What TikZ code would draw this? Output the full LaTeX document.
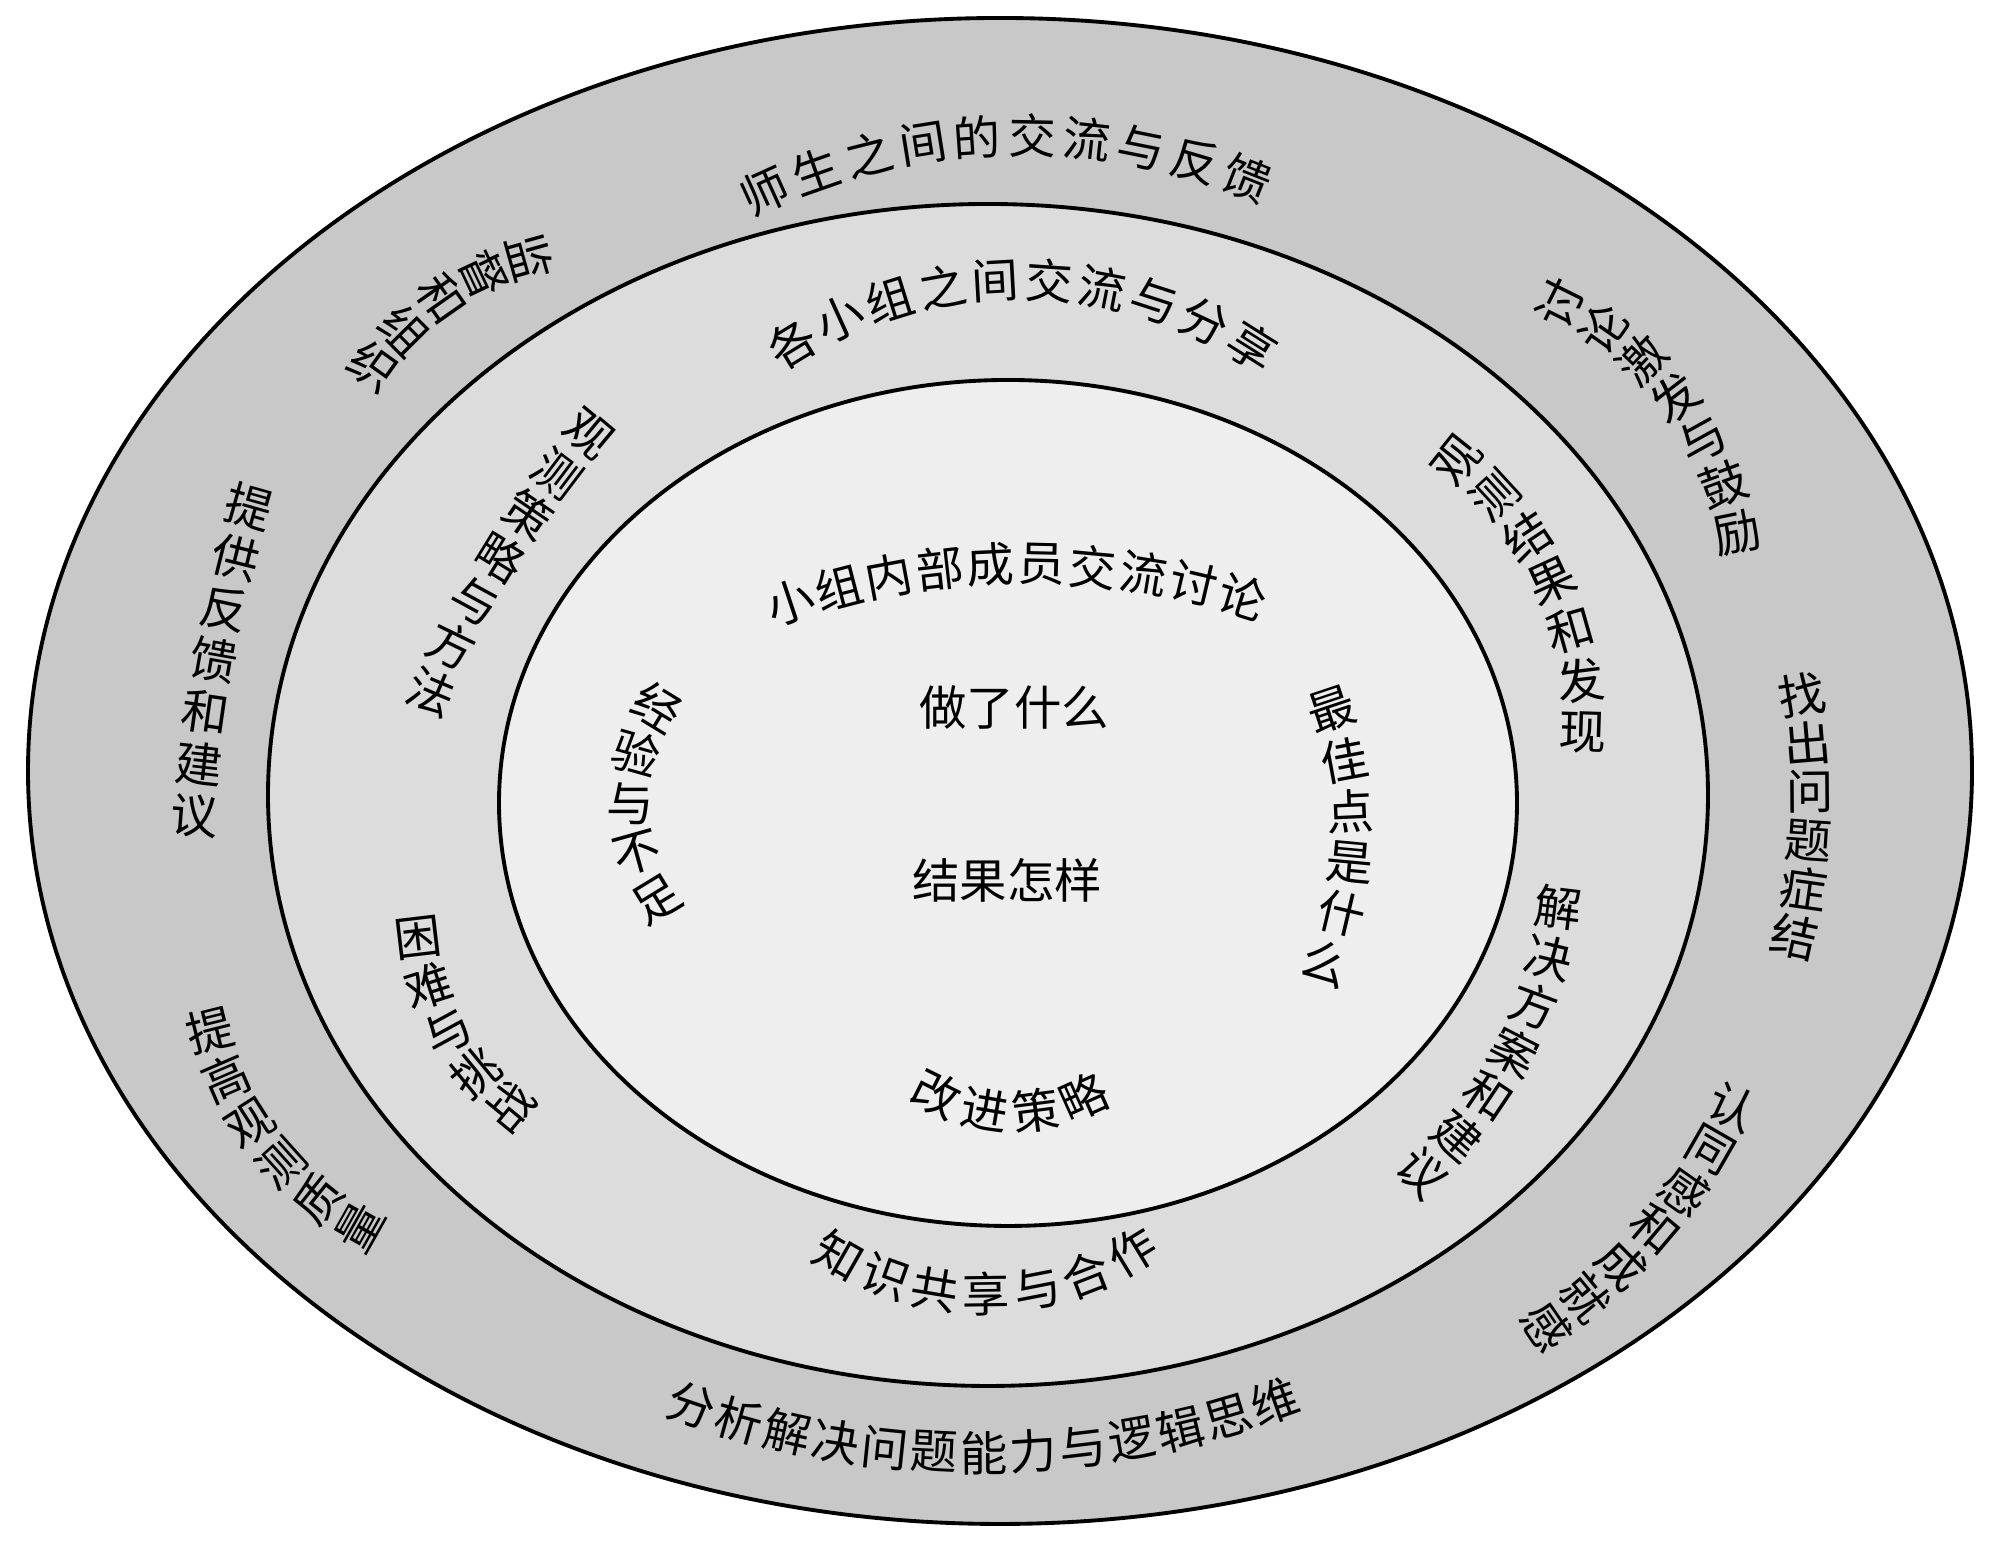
\documentclass[tikz,border=0pt]{standalone}
\usepackage{fontspec}
\newfontfamily\cjkfont{Noto Sans CJK SC}
\definecolor{ringA}{HTML}{C8C8C8}
\definecolor{ringB}{HTML}{DCDCDC}
\definecolor{ringC}{HTML}{EEEEEE}
\tikzset{
  lbl/.style={font={\cjkfont\fontsize{13.5pt}{16pt}\selectfont}, inner sep=0pt, text=black},
  ring/.style={draw=black, line width=1.1pt}
}
% text along a circular arc through three points A, M, B (image pixel coords)
% #7 = number of characters, #8 = 1 for stacked (vertical) text, 0 for text along the arc
\newcommand\arctext[9]{%
  \pgfmathsetmacro\aAx{#1/100}\pgfmathsetmacro\aAy{(1554-#2)/100}%
  \pgfmathsetmacro\aMx{#3/100}\pgfmathsetmacro\aMy{(1554-#4)/100}%
  \pgfmathsetmacro\aBx{#5/100}\pgfmathsetmacro\aBy{(1554-#6)/100}%
  \pgfmathsetmacro\aD{2*(\aAx*(\aMy-\aBy)+\aMx*(\aBy-\aAy)+\aBx*(\aAy-\aMy))}%
  \pgfmathsetmacro\aSA{\aAx*\aAx+\aAy*\aAy}%
  \pgfmathsetmacro\aSM{\aMx*\aMx+\aMy*\aMy}%
  \pgfmathsetmacro\aSB{\aBx*\aBx+\aBy*\aBy}%
  \pgfmathsetmacro\aUx{(\aSA*(\aMy-\aBy)+\aSM*(\aBy-\aAy)+\aSB*(\aAy-\aMy))/\aD}%
  \pgfmathsetmacro\aUy{(\aSA*(\aBx-\aMx)+\aSM*(\aAx-\aBx)+\aSB*(\aMx-\aAx))/\aD}%
  \pgfmathsetmacro\aR{veclen(\aAx-\aUx,\aAy-\aUy)}%
  \pgfmathsetmacro\atA{atan2(\aAy-\aUy,\aAx-\aUx)}%
  \pgfmathsetmacro\atB{atan2(\aBy-\aUy,\aBx-\aUx)}%
  \pgfmathsetmacro\aCr{(\aMx-\aAx)*(\aBy-\aMy)-(\aMy-\aAy)*(\aBx-\aMx)}%
  \pgfmathsetmacro\atBB{ifthenelse(\aCr>0,ifthenelse(\atB<\atA,\atB+360,\atB),ifthenelse(\atB>\atA,\atB-360,\atB))}%
  \pgfmathsetmacro\aOff{ifthenelse(\aCr>0,ifthenelse(#8==1,180,90),ifthenelse(#8==1,0,-90))}%
  \pgfmathsetmacro\aDt{(\atBB-\atA)/(#7-1)}%
  \foreach \ch [count=\i from 0] in {#9}{%
    \pgfmathsetmacro\aT{\atA+\i*\aDt}%
    \pgfmathsetmacro\aRot{\aT+\aOff}%
    \node[lbl, rotate=\aRot] at ({\aUx+\aR*cos(\aT)},{\aUy+\aR*sin(\aT)}) {\ch};
  }%
}
\begin{document}
\begin{tikzpicture}
\useasboundingbox (0,0) rectangle (19.99,15.54);
\fill[white] (0,0) rectangle (19.99,15.54);
% rings
\draw[ring, fill=ringA] (10.00,7.83) ellipse [x radius=9.72, y radius=7.53];
\draw[ring, fill=ringB] (9.88,7.59) ellipse [x radius=7.20, y radius=5.91];
\draw[ring, fill=ringC] (10.08,7.51) ellipse [x radius=5.09, y radius=4.23];
% outer ring texts
\arctext{765}{191}{1003}{136}{1247}{179}{10}{0}{师,生,之,间,的,交,流,与,反,馈}
\arctext{530}{257}{443}{298}{373}{367}{5}{1}{监,督,和,组,织}
\arctext{249}{507}{214}{659}{194}{816}{7}{1}{提,供,反,馈,和,建,议}
\arctext{210}{1030}{250}{1123}{360}{1227}{6}{1}{提,高,观,测,质,量}
\arctext{692}{1406}{994}{1453}{1275}{1402}{13}{0}{分,析,解,决,问,题,能,力,与,逻,辑,思,维}
\arctext{1733}{1107}{1657}{1227}{1547}{1327}{7}{1}{认,同,感,和,成,就,感}
\arctext{1802}{695}{1810}{816}{1795}{937}{6}{1}{找,出,问,题,症,结}
\arctext{1560}{303}{1677}{400}{1737}{533}{7}{1}{讨,论,激,发,与,鼓,励}
% middle ring texts
\arctext{792}{344}{1020}{280}{1252}{347}{10}{0}{各,小,组,之,间,交,流,与,分,享}
\arctext{589}{434}{500}{558}{431}{692}{7}{1}{观,测,策,略,与,方,法}
\arctext{418}{938}{447}{1030}{510}{1107}{5}{1}{困,难,与,挑,战}
\arctext{839}{1256}{988}{1294}{1132}{1252}{7}{0}{知,识,共,享,与,合,作}
\arctext{1558}{908}{1515}{1050}{1422}{1173}{7}{1}{解,决,方,案,和,建,议}
\arctext{1457}{460}{1553}{583}{1583}{733}{7}{1}{观,测,结,果,和,发,现}
% inner texts
\arctext{790}{602}{1020}{564}{1243}{597}{10}{0}{小,组,内,部,成,员,交,流,讨,论}
\arctext{657}{707}{630}{797}{657}{900}{5}{1}{经,验,与,不,足}
\arctext{1332}{710}{1351}{841}{1326}{963}{6}{1}{最,佳,点,是,什,么}
\arctext{937}{1094}{1010}{1112}{1084}{1097}{4}{0}{改,进,策,略}
\node[lbl] (did) at (10.14,8.46) {做了什么};
\node[lbl] (res) at (10.07,6.74) {结果怎样};
\end{tikzpicture}
\end{document}
